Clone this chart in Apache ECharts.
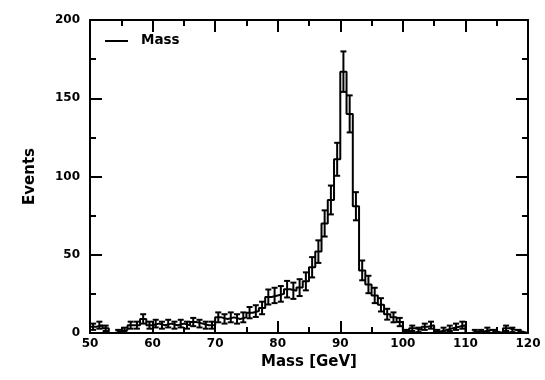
<!DOCTYPE html>
<html><head><meta charset="utf-8">
<script src="https://cdn.jsdelivr.net/npm/echarts@6/dist/echarts.min.js"></script>
<style>html,body{margin:0;padding:0;background:#fff}#c{width:545px;height:380px}</style>
</head><body><div id="c"></div>
<script>
// Histogram bin lower edges (GeV), bin width 1 GeV
const binLowEdges = [50,51,52,53,54,55,56,57,58,59,60,61,62,63,64,65,66,67,68,69,
  70,71,72,73,74,75,76,77,78,79,80,81,82,83,84,85,86,87,88,89,
  90,91,92,93,94,95,96,97,98,99,100,101,102,103,104,105,106,107,108,109,
  110,111,112,113,114,115,116,117,118,119];
const binWidth = 1;
// Event counts per bin
const counts = [4,5,3,0,1,2,5,5,9,5,6,5,6,5,6,5,7,6,5,5,
  10,9,10,9,10,13,14,16,23,24,25,28,27,29,33,42,52,70,85,111,
  167,140,81,40,31,24,18,12,10,7,1,3,2,4,5,1,2,3,4,5,
  0,1,1,2,1,0,3,2,1,0];
const xTickValues = [50,60,70,80,90,100,110,120];
const yTickValues = [0,50,100,150,200];
const xTitle = 'Mass [GeV]';
const yTitle = 'Events';
const seriesName = 'Mass';

const FONT = 'DejaVu Sans';
const xMin = xTickValues[0], xMax = xTickValues[xTickValues.length-1];
const xInt = xTickValues[1]-xTickValues[0];
const yMin = yTickValues[0], yMax = yTickValues[yTickValues.length-1];
const yInt = yTickValues[1]-yTickValues[0];

const last = binLowEdges.length - 1;
const stepData = binLowEdges.map((x,i)=>[x, counts[i]]);
stepData.push([binLowEdges[last]+binWidth, counts[last]]);
const errData = binLowEdges.map((x,i)=>[x+binWidth/2, counts[i], Math.sqrt(counts[i])]).filter(d=>d[1]>0);

const black = '#000';
function axisCommon(showLabel){
  return {
    axisLine:{show:true,onZero:false,lineStyle:{color:black,width:2}},
    axisTick:{show:true,inside:true,length:12,lineStyle:{color:black,width:2}},
    minorTick:{show:true,splitNumber:2,length:6,lineStyle:{color:black,width:2}},
    splitLine:{show:false},
    axisLabel:{show:showLabel,color:black,fontFamily:FONT,fontWeight:'bold',fontSize:12}
  };
}
const chart = echarts.init(document.getElementById('c'), null, {renderer:'canvas'});
chart.setOption({
  backgroundColor:'#fff',
  animation:false,
  grid:{left:90,right:17,top:20,bottom:47},
  xAxis:[
    Object.assign({type:'value',min:xMin,max:xMax,interval:xInt,position:'bottom',
      name:xTitle,nameLocation:'middle',nameGap:18,
      nameTextStyle:{color:black,fontFamily:FONT,fontWeight:'bold',fontSize:15}}, axisCommon(true),
      {axisLabel:{show:true,color:black,fontFamily:FONT,fontWeight:'bold',fontSize:12,margin:5}}),
    Object.assign({type:'value',min:xMin,max:xMax,interval:xInt,position:'top'}, axisCommon(false))
  ],
  yAxis:[
    Object.assign({type:'value',min:yMin,max:yMax,interval:yInt,position:'left',
      name:yTitle,nameLocation:'middle',nameGap:52,
      nameTextStyle:{color:black,fontFamily:FONT,fontWeight:'bold',fontSize:15}}, axisCommon(true),
      {axisLabel:{show:true,color:black,fontFamily:FONT,fontWeight:'bold',fontSize:12,margin:10}}),
    Object.assign({type:'value',min:yMin,max:yMax,interval:yInt,position:'right'}, axisCommon(false))
  ],
  series:[
    {type:'line',name:seriesName,data:stepData,step:'end',showSymbol:false,symbol:'none',
      lineStyle:{color:black,width:2},xAxisIndex:0,yAxisIndex:0,clip:true,z:3},
    {type:'custom',name:seriesName+' err',data:errData,xAxisIndex:0,yAxisIndex:0,
      dimensions:['x','y','err'],encode:{x:0,y:1},z:4,
      renderItem:function(params, api){
        const c = api.value(0), v = api.value(1), e = api.value(2);
        const t = api.coord([c, v+e]), b = api.coord([c, v-e]);
        const hw = 3;
        const st = {stroke:black,lineWidth:2};
        return {type:'group',children:[
          {type:'line',shape:{x1:t[0],y1:t[1],x2:b[0],y2:b[1]},style:st},
          {type:'line',shape:{x1:t[0]-hw,y1:t[1],x2:t[0]+hw,y2:t[1]},style:st},
          {type:'line',shape:{x1:b[0]-hw,y1:b[1],x2:b[0]+hw,y2:b[1]},style:st}
        ]};
      }}
  ],
  graphic:[
    {type:'line',shape:{x1:105,y1:41,x2:128,y2:41},style:{stroke:black,lineWidth:2}},
    {type:'text',left:141,top:33,style:{text:seriesName,fill:black,font:'bold 13.5px "DejaVu Sans"'}}
  ]
});
</script></body></html>
